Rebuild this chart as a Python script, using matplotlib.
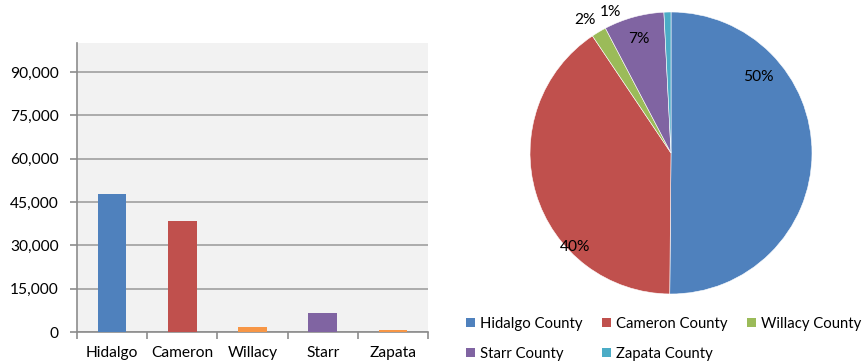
import matplotlib
matplotlib.use("Agg")
import matplotlib.pyplot as plt
from matplotlib.patches import Patch
import numpy as np

# County totals
counties = ["Hidalgo", "Cameron", "Willacy", "Starr", "Zapata"]
legend_names = ["Hidalgo County", "Cameron County", "Willacy County", "Starr County", "Zapata County"]
values = [47600, 38400, 1620, 6550, 760]
yticks = [0, 15000, 30000, 45000, 60000, 75000, 90000]

bar_colors = ["#4F81BD", "#C0504D", "#F79646", "#8064A2", "#F79646"]
pie_colors = ["#4F81BD", "#C0504D", "#9BBB59", "#8064A2", "#4BACC6"]

plt.rcParams["font.family"] = ["Lato", "DejaVu Sans"]
FS = 11.2
LEG_FS = 10.7

fig = plt.figure(figsize=(8.66, 3.64), dpi=100)

# ---- bar chart ----
ax = fig.add_axes([77 / 866, 32 / 364, 351 / 866, 289 / 364])
ax.set_facecolor("#F2F2F2")
x = np.arange(len(counties))
ax.bar(x, values, width=0.41, color=bar_colors, zorder=3)
ax.set_xlim(-0.5, len(counties) - 0.5)
ax.set_ylim(0, 100000)
ax.set_yticks(yticks)
ax.set_yticklabels([f"{v:,}" for v in yticks], fontsize=FS)
ax.yaxis.grid(True, color="#A0A0A0", linewidth=1.2, zorder=0)
ax.set_axisbelow(True)
ax.set_xticks(x)
ax.set_xticklabels(counties, fontsize=FS)
ax.set_xticks(np.arange(-0.5, len(counties)), minor=True)
ax.tick_params(axis="x", which="major", length=0, pad=10)
ax.tick_params(axis="x", which="minor", length=5, width=1.2, color="#8C8C8C", direction="out")
ax.tick_params(axis="y", length=5, width=1.2, color="#8C8C8C", pad=8)
for s in ["top", "right"]:
    ax.spines[s].set_visible(False)
for s in ["left", "bottom"]:
    ax.spines[s].set_color("#8C8C8C")
    ax.spines[s].set_linewidth(1.2)

# ---- pie chart ----
pax = fig.add_axes([530 / 866, 70 / 364, 282 / 866, 282 / 364])
wedges, _ = pax.pie(values, colors=pie_colors, startangle=90, counterclock=False,
                    wedgeprops=dict(edgecolor="white", linewidth=0.4))
pax.set_xlim(-1, 1)
pax.set_ylim(-1, 1)
pax.set_aspect("equal")
pax.axis("off")

total = sum(values)
label_pos = [(0.62, 0.54), (-0.68, -0.67), (-0.61, 0.94), (-0.23, 0.81), (-0.43, 1.0)]
for v, (lx, ly) in zip(values, label_pos):
    pax.text(lx, ly, f"{round(100 * v / total):.0f}%", fontsize=FS,
             ha="center", va="center", clip_on=False)

# legend laid out row by row: matplotlib fills columns first, so reorder
handles = [Patch(facecolor=c, edgecolor="none") for c in pie_colors]
order = [0, 3, 1, 4, 2]
fig.legend([handles[i] for i in order], [legend_names[i] for i in order],
           ncol=3, loc="upper left",
           bbox_to_anchor=(460 / 866, 1 - 311 / 364), frameon=False,
           fontsize=LEG_FS, handlelength=0.6, handleheight=0.6,
           handletextpad=0.35, columnspacing=1.3, labelspacing=1.05,
           borderaxespad=0.0)

fig.savefig("out.png", dpi=100)
